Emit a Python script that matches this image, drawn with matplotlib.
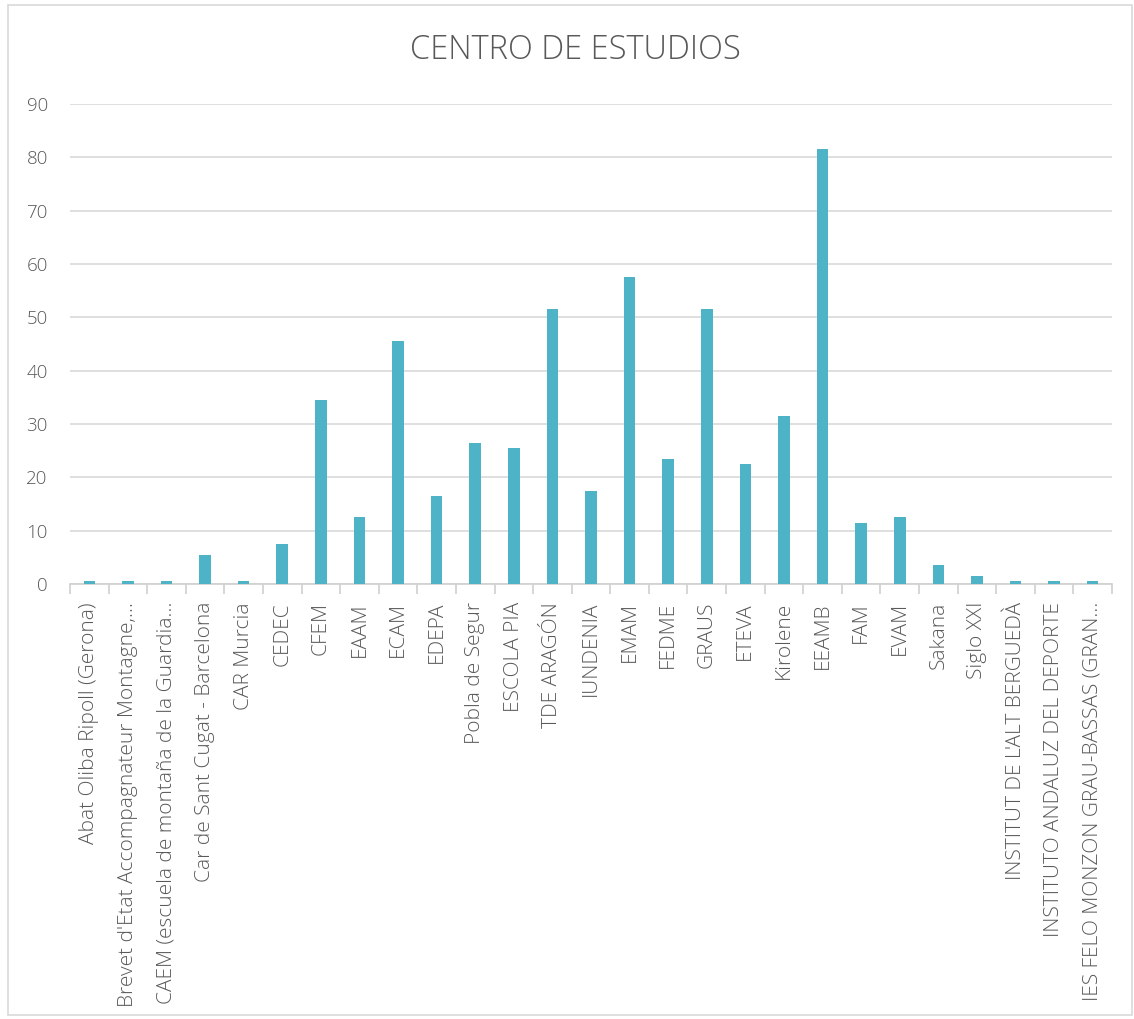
import matplotlib.pyplot as plt
import numpy as np

centros = [
    "Abat Oliba Ripoll (Gerona)",
    "Brevet d'Etat Accompagnateur Montagne,…",
    "CAEM (escuela de montaña de la Guardia…",
    "Car de Sant Cugat - Barcelona",
    "CAR Murcia",
    "CEDEC",
    "CFEM",
    "EAAM",
    "ECAM",
    "EDEPA",
    "Pobla de Segur",
    "ESCOLA PIA",
    "TDE ARAGÓN",
    "IUNDENIA",
    "EMAM",
    "FEDME",
    "GRAUS",
    "ETEVA",
    "Kirolene",
    "EEAMB",
    "FAM",
    "EVAM",
    "Sakana",
    "Siglo XXI",
    "INSTITUT DE L'ALT BERGUEDÀ",
    "INSTITUTO ANDALUZ DEL DEPORTE",
    "IES FELO MONZON GRAU-BASSAS (GRAN…",
]
valores = [0.5, 0.5, 0.5, 5.5, 0.5, 7.5, 34.5, 12.5, 45.5, 16.5, 26.5, 25.5,
           51.5, 17.5, 57.5, 23.5, 51.5, 22.5, 31.5, 81.5, 11.5, 12.5, 3.5,
           1.5, 0.5, 0.5, 0.5]
yticks = list(range(0, 100, 10))

plt.rcParams['font.family'] = ['Open Sans', 'DejaVu Sans']
gris = '#595959'

fig = plt.figure(figsize=(11.34, 10.19), dpi=100)
ax = fig.add_axes([70 / 1134, 1 - 584 / 1019, 1042 / 1134, 480 / 1019])

x = np.arange(len(centros))
ax.bar(x, valores, width=0.3, color='#4fb3c7', zorder=3)

ax.set_xlim(-0.5, len(centros) - 0.5)
ax.set_ylim(0, 90)
ax.set_yticks(yticks)
ax.set_yticklabels([str(t) for t in yticks], color=gris, fontsize=13.5, fontweight='light')
ax.tick_params(axis='y', length=0, pad=16)
ax.grid(axis='y', color='#d9d9d9', linewidth=1.2, zorder=0)

ax.set_xticks(x)
ax.set_xticklabels(centros, rotation=90, color=gris, fontsize=15, fontweight='light')
ax.set_xticks(np.arange(-0.5, len(centros), 1), minor=True)
ax.tick_params(axis='x', which='major', length=0, pad=13)
ax.tick_params(axis='x', which='minor', length=7, color='#d0d0d0', width=1.2)

for s in ['top', 'right', 'left']:
    ax.spines[s].set_visible(False)
ax.spines['bottom'].set_color('#d0d0d0')
ax.spines['bottom'].set_linewidth(1.2)

fig.text(0.5 + 8 / 1134, 1 - 50 / 1019, "CENTRO DE ESTUDIOS", ha='center', va='center',
         fontsize=23.5, color=gris, fontweight='light')

borde = plt.Rectangle((8 / 1134, 4 / 1019), 1124 / 1134, 1010 / 1019,
                      transform=fig.transFigure, fill=False, edgecolor='#d9d9d9', linewidth=1.2)
fig.patches.append(borde)

fig.savefig('out.png', dpi=100, facecolor='white')
